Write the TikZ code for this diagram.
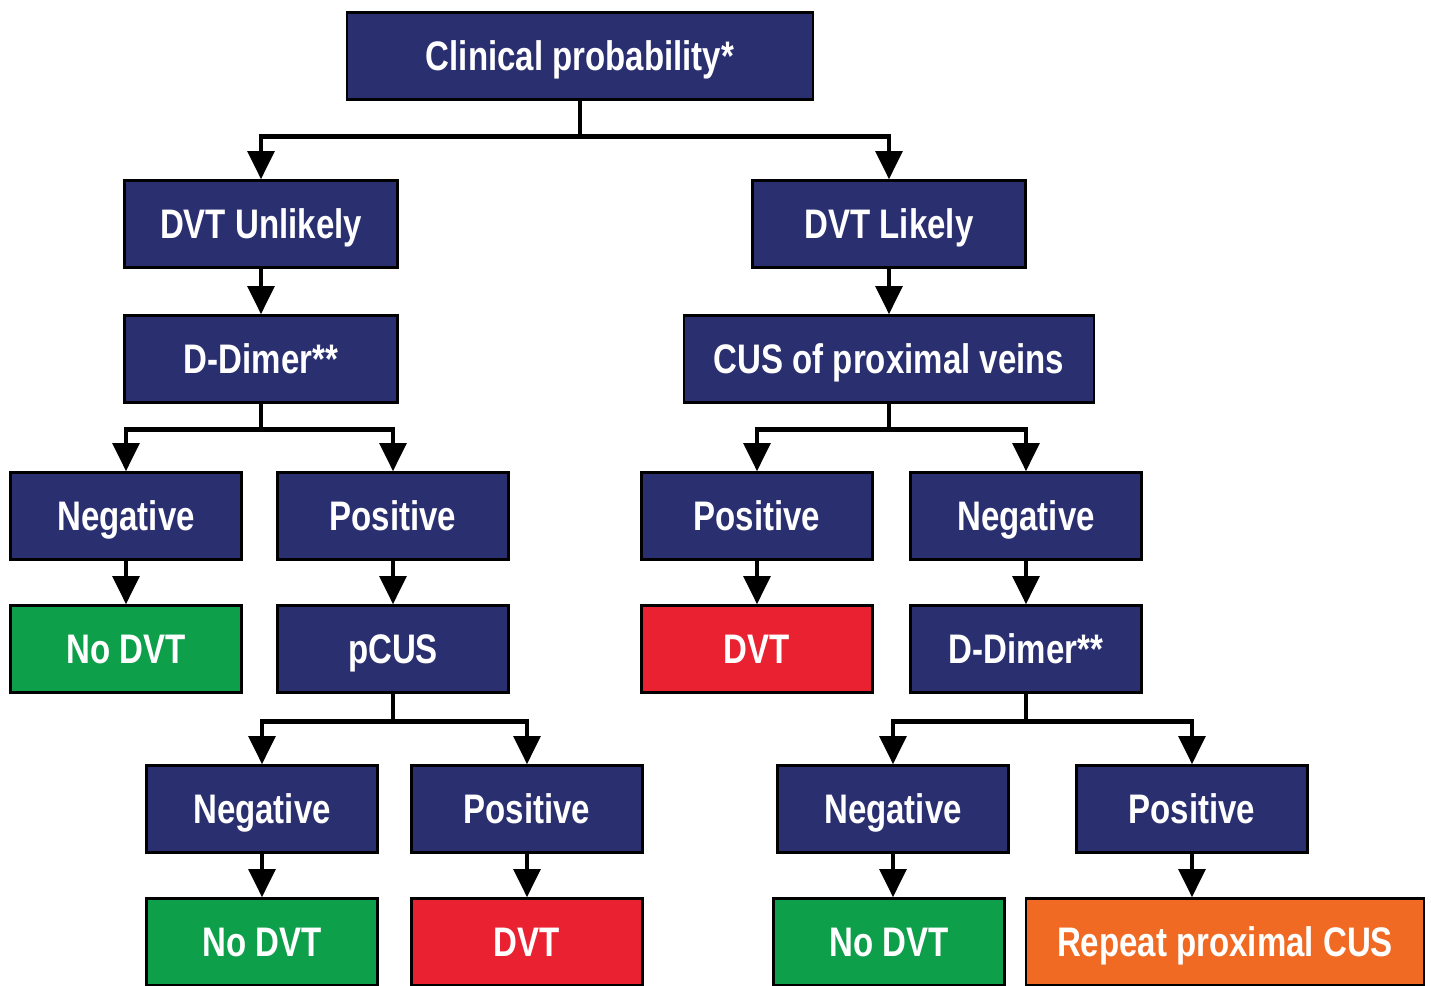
\documentclass[tikz,border=0pt]{standalone}
\usepackage{fontspec}
\setmainfont{Liberation Sans}[FakeStretch=0.8]
\usepackage{tikz}
\usetikzlibrary{arrows.meta,positioning,calc}
\definecolor{dvtnavy}{HTML}{2A2F70}
\definecolor{dvtgreen}{HTML}{0E9F4B}
\definecolor{dvtred}{HTML}{EA2131}
\definecolor{dvtorange}{HTML}{F06A24}
\tikzset{
  box/.style     = {draw=black, line width=1.4pt, fill=dvtnavy, text=white,
                    minimum height=1.74cm, minimum width=4.62cm, inner sep=0pt,
                    text height=19pt, text depth=2pt,
                    font=\fontsize{23.5}{28}\selectfont\bfseries},
  widebox/.style = {box, minimum width=5.46cm},
  nodvt/.style   = {box, fill=dvtgreen},
  yesdvt/.style  = {box, fill=dvtred},
  redo/.style    = {box, fill=dvtorange},
  conn/.style    = {-{Triangle[length=16pt,width=15pt]}, line width=2.6pt},
}
\begin{document}
\begin{tikzpicture}[x=0.02cm, y=-0.02cm]
\useasboundingbox (0,0) rectangle (1431,985);
% ---------- top ----------
\node[box, minimum width=9.32cm] (clin) at (580,56) {Clinical probability*};
\node[widebox] (unlik) at (261,224) {DVT Unlikely};
\node[widebox] (lik)   at (889,224) {DVT Likely};
\node[widebox] (ddim)  at (261,359) {D-Dimer**};
\node[box, minimum width=8.2cm] (cus) at (889,359) {CUS of proximal veins};
% ---------- second level ----------
\node[box] (neg1) at (126,516) {Negative};
\node[box] (pos1) at (393,516) {Positive};
\node[box] (pos2) at (757,516) {Positive};
\node[box] (neg2) at (1026,516) {Negative};
\node[nodvt]  (nodvt1) at (126,649) {No DVT};
\node[box]    (pcus)   at (393,649) {pCUS};
\node[yesdvt] (dvt1)   at (757,649) {DVT};
\node[box]    (ddim2)  at (1026,649) {D-Dimer**};
% ---------- third level ----------
\node[box] (neg3) at (262,809) {Negative};
\node[box] (pos3) at (527,809) {Positive};
\node[box] (neg4) at (893,809) {Negative};
\node[box] (pos4) at (1192,809) {Positive};
\node[nodvt]  (nodvt2) at (262,942) {No DVT};
\node[yesdvt] (dvt2)   at (527,942) {DVT};
\node[nodvt]  (nodvt3) at (889,942) {No DVT};
\node[redo, minimum width=7.96cm] (rep) at (1225,942) {Repeat proximal CUS};
% ---------- connectors ----------
\draw[conn] (clin.south) -- ++(0,36) coordinate (b0) -| (unlik.north);
\draw[conn] (b0) -| (lik.north);
\draw[conn] (unlik.south) -- (ddim.north);
\draw[conn] (lik.south) -- (cus.north);
\draw[conn] (ddim.south) -- ++(0,26) coordinate (b1) -| (neg1.north);
\draw[conn] (b1) -| (pos1.north);
\draw[conn] (cus.south) -- ++(0,26) coordinate (b2) -| (pos2.north);
\draw[conn] (b2) -| (neg2.north);
\draw[conn] (neg1.south) -- (nodvt1.north);
\draw[conn] (pos1.south) -- (pcus.north);
\draw[conn] (pos2.south) -- (dvt1.north);
\draw[conn] (neg2.south) -- (ddim2.north);
\draw[conn] (pcus.south) -- ++(0,28) coordinate (b3) -| (neg3.north);
\draw[conn] (b3) -| (pos3.north);
\draw[conn] (ddim2.south) -- ++(0,28) coordinate (b4) -| (neg4.north);
\draw[conn] (b4) -| (pos4.north);
\draw[conn] (neg3.south) -- (nodvt2.north);
\draw[conn] (pos3.south) -- (dvt2.north);
\draw[conn] (neg4.south) -- (neg4.south |- nodvt3.north);
\draw[conn] (pos4.south) -- (pos4.south |- rep.north);
\end{tikzpicture}
\end{document}
